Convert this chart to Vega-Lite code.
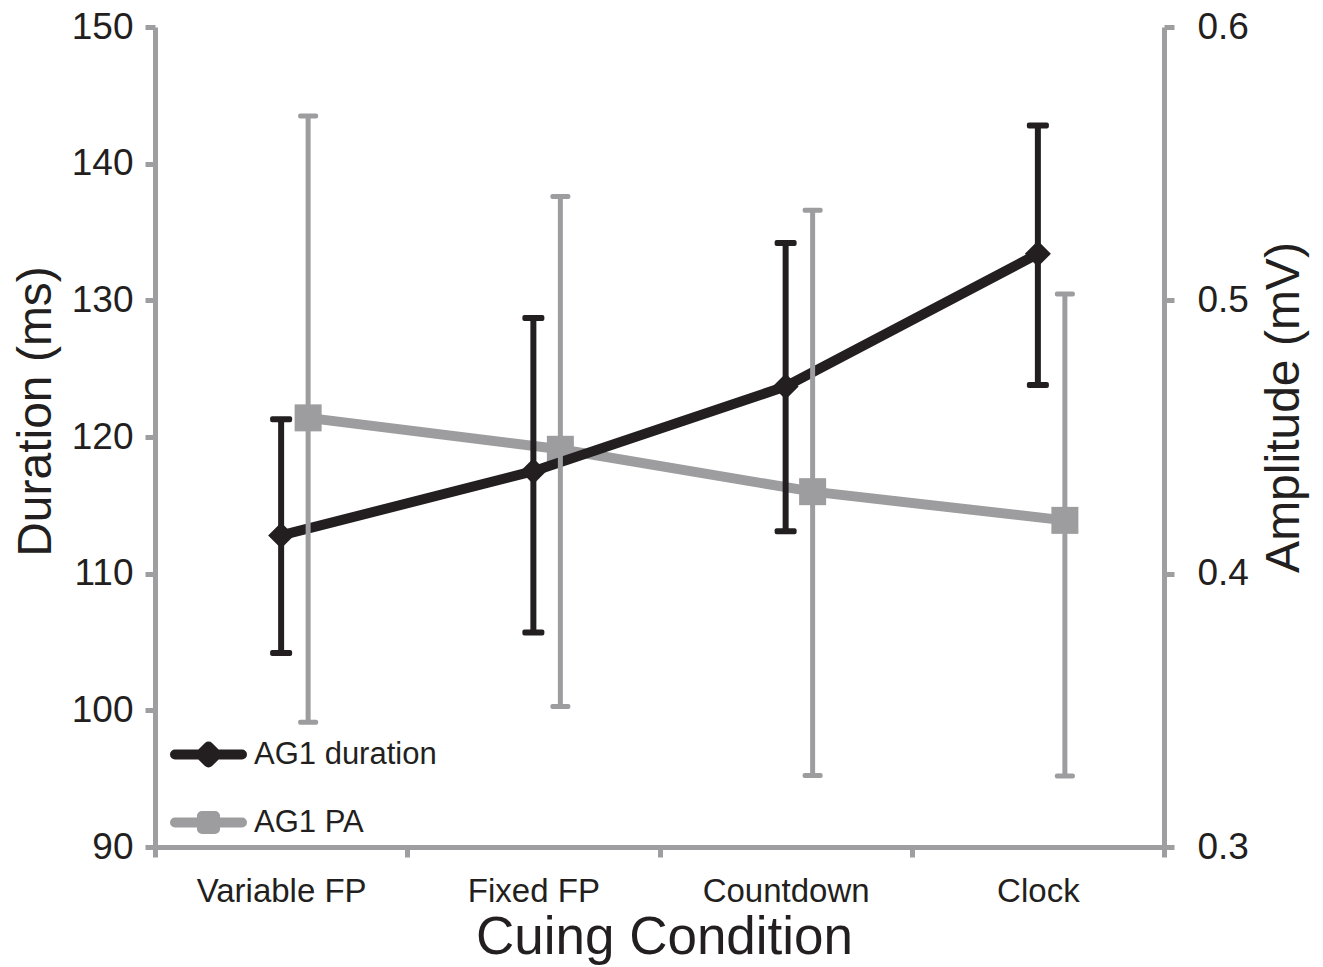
{
  "$schema": "https://vega.github.io/schema/vega-lite/v6.json",
  "width": 1009,
  "height": 820,
  "autosize": "none",
  "padding": {"left": 155, "top": 27, "right": 159, "bottom": 120},
  "background": "white",
  "config": {
    "font": "Liberation Sans",
    "view": {"stroke": null},
    "axis": {
      "grid": false,
      "domainColor": "#9e9ea0",
      "domainWidth": 5,
      "tickColor": "#9e9ea0",
      "tickWidth": 5,
      "tickSize": 10,
      "labelColor": "#231f20",
      "titleColor": "#231f20",
      "titleFontWeight": "normal",
      "labelFont": "Liberation Sans",
      "titleFont": "Liberation Sans"
    }
  },
  "datasets": {
    "dur": [
      {"condition": "Variable FP", "series": "AG1 duration", "mean": 112.8, "lower": 104.2, "upper": 121.3},
      {"condition": "Fixed FP", "series": "AG1 duration", "mean": 117.5, "lower": 105.7, "upper": 128.7},
      {"condition": "Countdown", "series": "AG1 duration", "mean": 123.7, "lower": 113.1, "upper": 134.2},
      {"condition": "Clock", "series": "AG1 duration", "mean": 133.4, "lower": 123.8, "upper": 142.8}
    ],
    "pa": [
      {"condition": "Variable FP", "series": "AG1 PA", "mean": 0.457, "lower": 0.3456, "upper": 0.5674},
      {"condition": "Fixed FP", "series": "AG1 PA", "mean": 0.4455, "lower": 0.3514, "upper": 0.538},
      {"condition": "Countdown", "series": "AG1 PA", "mean": 0.43, "lower": 0.3262, "upper": 0.533},
      {"condition": "Clock", "series": "AG1 PA", "mean": 0.4195, "lower": 0.326, "upper": 0.5023}
    ]
  },
  "layer": [
    {
      "data": {"name": "pa"},
      "encoding": {
        "x": {
          "field": "condition", "type": "nominal",
          "scale": {"type": "band", "paddingInner": 0, "paddingOuter": 0, "domain": ["Variable FP", "Fixed FP", "Countdown", "Clock"]},
          "axis": {
            "title": "Cuing Condition", "titleFontSize": 53, "labelFontSize": 33, "labelAngle": 0,
            "tickBand": "extent", "labelPadding": 18, "titleX": 509, "titleY": 106, "titleBaseline": "alphabetic"
          }
        },
        "y": {
          "field": "mean", "type": "quantitative",
          "scale": {"domain": [0.3, 0.6], "nice": false, "zero": false},
          "axis": {
            "orient": "right", "title": "Amplitude (mV)", "values": [0.3, 0.4, 0.5, 0.6], "format": ".1f",
            "labelFontSize": 37, "labelPadding": 23, "titleFontSize": 48, "titleAngle": 270,
            "titleX": 134, "titleY": 380, "titleBaseline": "alphabetic", "titleAlign": "center"
          }
        }
      },
      "layer": [
        {
          "mark": {"type": "line", "strokeWidth": 10, "xOffset": 27},
          "encoding": {
            "color": {
              "field": "series", "type": "nominal",
              "scale": {"domain": ["AG1 duration", "AG1 PA"], "range": ["#231f20", "#9d9d9f"]},
              "legend": {
                "title": null, "orient": "none", "legendX": 10, "legendY": 684,
                "symbolSize": 5929, "symbolStrokeWidth": 10, "labelFontSize": 31, "labelColor": "#231f20",
                "labelFont": "Liberation Sans", "labelOffset": 2, "labelLimit": 500, "rowPadding": 9, "padding": 0,
                "encode": {
                  "symbols": {
                    "update": {
                      "shape": {"signal": "datum.value === 'AG1 duration' ? 'M-0.87,0L0.87,0M0,-0.21L0.21,0L0,0.21L-0.21,0Z' : 'M-0.87,0L0.87,0M-0.17,-0.17H0.17V0.17H-0.17Z'"},
                      "fill": {"signal": "datum.value === 'AG1 duration' ? '#231f20' : '#9d9d9f'"},
                      "stroke": {"signal": "datum.value === 'AG1 duration' ? '#231f20' : '#9d9d9f'"},
                      "strokeCap": {"value": "round"},
                      "strokeJoin": {"value": "round"},
                      "opacity": {"value": 1}
                    }
                  }
                }
              }
            }
          }
        },
        {
          "mark": {"type": "point", "shape": "square", "size": 729, "filled": true, "opacity": 1, "color": "#9d9d9f", "xOffset": 27}
        }
      ]
    },
    {
      "data": {"name": "dur"},
      "encoding": {
        "x": {
          "field": "condition", "type": "nominal",
          "scale": {"type": "band", "paddingInner": 0, "paddingOuter": 0, "domain": ["Variable FP", "Fixed FP", "Countdown", "Clock"]}
        },
        "y": {
          "field": "mean", "type": "quantitative",
          "scale": {"domain": [90, 150], "nice": false, "zero": false},
          "axis": {
            "orient": "left", "title": "Duration (ms)", "values": [90, 100, 110, 120, 130, 140, 150],
            "labelFontSize": 37, "labelPadding": 12, "titleFontSize": 48, "titleAngle": 270,
            "titleX": -105, "titleY": 384, "titleBaseline": "alphabetic", "titleAlign": "center"
          }
        }
      },
      "layer": [
        {
          "mark": {"type": "rule", "strokeWidth": 6, "color": "#231f20"},
          "encoding": {"y": {"field": "lower", "type": "quantitative"}, "y2": {"field": "upper"}}
        },
        {
          "mark": {"type": "tick", "orient": "horizontal", "size": 22, "thickness": 6, "color": "#231f20", "opacity": 1, "cornerRadius": 2},
          "encoding": {"y": {"field": "lower", "type": "quantitative"}}
        },
        {
          "mark": {"type": "tick", "orient": "horizontal", "size": 22, "thickness": 6, "color": "#231f20", "opacity": 1, "cornerRadius": 2},
          "encoding": {"y": {"field": "upper", "type": "quantitative"}}
        },
        {
          "mark": {"type": "line", "strokeWidth": 10},
          "encoding": {
            "color": {
              "field": "series", "type": "nominal",
              "scale": {"domain": ["AG1 duration", "AG1 PA"], "range": ["#231f20", "#9d9d9f"]}
            }
          }
        },
        {
          "mark": {"type": "point", "shape": "diamond", "size": 676, "filled": true, "opacity": 1, "color": "#231f20"}
        }
      ]
    },
    {
      "data": {"name": "pa"},
      "encoding": {
        "x": {
          "field": "condition", "type": "nominal",
          "scale": {"type": "band", "paddingInner": 0, "paddingOuter": 0, "domain": ["Variable FP", "Fixed FP", "Countdown", "Clock"]}
        },
        "y": {
          "field": "lower", "type": "quantitative",
          "scale": {"domain": [0.3, 0.6], "nice": false, "zero": false},
          "axis": null
        }
      },
      "layer": [
        {
          "mark": {"type": "rule", "strokeWidth": 5, "color": "#9d9d9f", "xOffset": 27},
          "encoding": {"y2": {"field": "upper"}}
        },
        {
          "mark": {"type": "tick", "orient": "horizontal", "size": 20, "thickness": 5, "color": "#9d9d9f", "opacity": 1, "cornerRadius": 2, "xOffset": 27}
        },
        {
          "mark": {"type": "tick", "orient": "horizontal", "size": 20, "thickness": 5, "color": "#9d9d9f", "opacity": 1, "cornerRadius": 2, "xOffset": 27},
          "encoding": {"y": {"field": "upper", "type": "quantitative"}}
        }
      ]
    }
  ],
  "resolve": {"scale": {"y": "independent"}}
}
